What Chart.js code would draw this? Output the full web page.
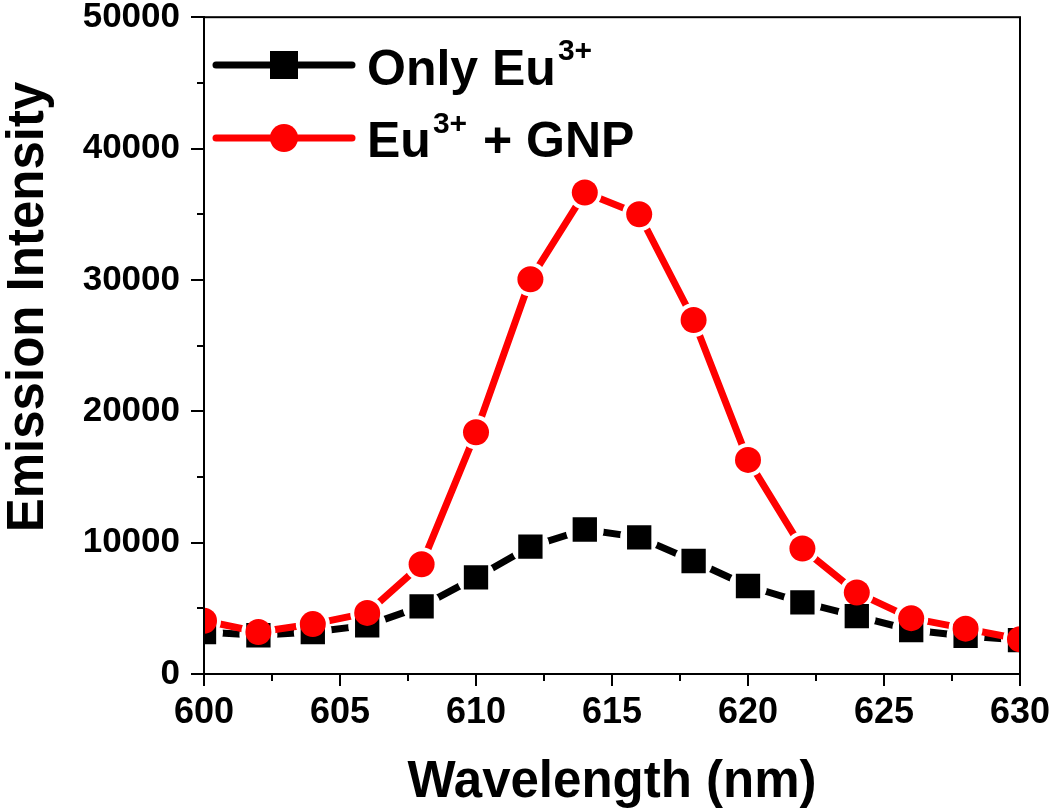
<!DOCTYPE html>
<html>
<head>
<meta charset="utf-8">
<script src="https://cdn.jsdelivr.net/npm/chart.js@4/dist/chart.umd.min.js"></script>
<style>
html, body { margin: 0; padding: 0; background: #fff; }
#wrap { width: 1050px; height: 812px; }
</style>
</head>
<body>
<div id="wrap"><canvas id="myChart" width="1050" height="812"></canvas></div>
<script>
// wavelength (nm) and emission intensity
var wavelengths = [600, 602, 604, 606, 608, 610, 612, 614, 616, 618, 620, 622, 624, 626, 628, 630];
var onlyEu = [3200, 2950, 3200, 3700, 5150, 7350, 9700, 11000, 10400, 8600, 6700, 5450, 4400, 3350, 2900, 2580];
var euGnp = [4050, 3200, 3800, 4650, 8350, 18400, 30050, 36650, 35000, 26950, 16300, 9550, 6200, 4250, 3450, 2650];

var xTickValues = [600, 605, 610, 615, 620, 625, 630];
var yTickValues = [0, 10000, 20000, 30000, 40000, 50000];
var xMinorTicks = [602.5, 607.5, 612.5, 617.5, 622.5, 627.5];
var yMinorTicks = [5000, 15000, 25000, 35000, 45000];

var FONT = '"Liberation Sans", Arial, sans-serif';
Chart.defaults.font.family = FONT;
Chart.defaults.color = '#000';

function pts(vals) {
  return wavelengths.map(function(w, i) { return {x: w, y: vals[i]}; });
}

// cut the line around its own symbols, like the origin plot does
var gapPlugin = {
  id: 'gaps',
  beforeDatasetDraw: function(chart, args) {
    var ds = chart.data.datasets[args.index];
    if (!ds.gapRadius) return;
    var ctx = chart.ctx;
    ctx.save();
    ctx.beginPath();
    ctx.rect(0, 0, chart.width, chart.height);
    args.meta.data.forEach(function(p) {
      ctx.moveTo(p.x + ds.gapRadius, p.y);
      ctx.arc(p.x, p.y, ds.gapRadius, 0, Math.PI * 2, true);
    });
    ctx.clip('evenodd');
  },
  afterDatasetDraw: function(chart, args) {
    if (chart.data.datasets[args.index].gapRadius) chart.ctx.restore();
  }
};

var extrasPlugin = {
  id: 'extras',
  afterDraw: function(chart) {
    var ctx = chart.ctx;
    var a = chart.chartArea;
    var xs = chart.scales.x, ys = chart.scales.y;
    ctx.save();
    ctx.strokeStyle = '#000';
    ctx.lineWidth = 2;
    ctx.strokeRect(a.left, a.top, a.right - a.left, a.bottom - a.top);

    // minor ticks
    ctx.beginPath();
    xMinorTicks.forEach(function(v) {
      var px = Math.round(xs.getPixelForValue(v));
      ctx.moveTo(px, a.bottom);
      ctx.lineTo(px, a.bottom + 7);
    });
    yMinorTicks.forEach(function(v) {
      var py = Math.round(ys.getPixelForValue(v));
      ctx.moveTo(a.left, py);
      ctx.lineTo(a.left - 7, py);
    });
    ctx.stroke();

    // legend
    ctx.lineCap = 'round';
    ctx.lineWidth = 7;
    ctx.strokeStyle = '#000';
    ctx.beginPath(); ctx.moveTo(216, 65); ctx.lineTo(352, 65); ctx.stroke();
    ctx.fillStyle = '#000';
    ctx.fillRect(284 - 14, 65 - 14, 28, 28);
    ctx.strokeStyle = '#ff0000';
    ctx.beginPath(); ctx.moveTo(216, 138); ctx.lineTo(352, 138); ctx.stroke();
    ctx.fillStyle = '#ff0000';
    ctx.beginPath(); ctx.arc(284, 138, 14, 0, Math.PI * 2); ctx.fill();

    ctx.fillStyle = '#000';
    ctx.textAlign = 'left';
    ctx.textBaseline = 'alphabetic';
    var big = 'bold 50px ' + FONT, sup = 'bold 30px ' + FONT;
    ctx.font = big;
    ctx.fillText('Only Eu', 367, 85);
    var w = ctx.measureText('Only Eu').width;
    ctx.font = sup;
    ctx.fillText('3+', 367 + w + 2, 60);

    ctx.font = big;
    ctx.fillText('Eu', 367, 157);
    w = ctx.measureText('Eu').width;
    ctx.font = sup;
    ctx.fillText('3+', 367 + w + 2, 133);
    var w2 = ctx.measureText('3+').width;
    ctx.font = big;
    ctx.fillText(' + GNP', 367 + w + 2 + w2 + 2, 157);

    // y title
    ctx.translate(43, 307);
    ctx.rotate(-Math.PI / 2);
    ctx.textAlign = 'center';
    ctx.font = 'bold 51px ' + FONT;
    ctx.fillText('Emission Intensity', 0, 0);
    ctx.restore();
  }
};

var ctx = document.getElementById('myChart').getContext('2d');
var myChart = new Chart(ctx, {
  type: 'line',
  data: {
    datasets: [
      {
        label: 'Only Eu3+',
        data: pts(onlyEu),
        borderColor: '#000',
        borderWidth: 7,
        borderCapStyle: 'round',
        borderJoinStyle: 'round',
        pointRadius: 0,
        gapRadius: 19,
        order: 4,
        clip: 0
      },
      {
        label: 'Only Eu3+ symbols',
        data: pts(onlyEu),
        showLine: false,
        pointStyle: 'rect',
        pointRadius: 17.2,
        pointBackgroundColor: '#000',
        pointBorderWidth: 0,
        order: 3,
        clip: 0
      },
      {
        label: 'Eu3+ + GNP',
        data: pts(euGnp),
        borderColor: '#ff0000',
        borderWidth: 7,
        borderCapStyle: 'round',
        borderJoinStyle: 'round',
        pointRadius: 0,
        gapRadius: 17,
        order: 2,
        clip: 0
      },
      {
        label: 'Eu3+ + GNP symbols',
        data: pts(euGnp),
        showLine: false,
        pointStyle: 'circle',
        pointRadius: 13,
        pointBackgroundColor: '#ff0000',
        pointBorderWidth: 0,
        order: 1,
        clip: 0
      }
    ]
  },
  options: {
    responsive: false,
    animation: false,
    events: [],
    devicePixelRatio: 1,
    layout: { padding: { top: 16, right: 30, left: 0, bottom: 0 } },
    plugins: {
      legend: { display: false },
      tooltip: { enabled: false }
    },
    scales: {
      x: {
        type: 'linear',
        min: 600,
        max: 630,
        afterFit: function(s) { s.height = 138; s.paddingLeft = 0; s.paddingRight = 0; },
        afterBuildTicks: function(s) { s.ticks = xTickValues.map(function(v) { return {value: v}; }); },
        ticks: {
          padding: 5,
          maxRotation: 0,
          autoSkip: false,
          font: { size: 36, weight: 'bold' }
        },
        grid: { drawOnChartArea: false, drawTicks: true, tickLength: 12, tickWidth: 2, tickColor: '#000', color: '#000', lineWidth: 2 },
        border: { display: true, color: '#000', width: 2 },
        title: {
          display: true,
          text: 'Wavelength (nm)',
          color: '#000',
          font: { size: 51, weight: 'bold', lineHeight: 1 },
          padding: { top: 0, bottom: 4 }
        }
      },
      y: {
        min: 0,
        max: 50000,
        afterFit: function(s) { s.width = 204; s.paddingTop = 0; s.paddingBottom = 0; },
        afterBuildTicks: function(s) { s.ticks = yTickValues.map(function(v) { return {value: v}; }); },
        ticks: {
          padding: 11,
          font: { size: 35, weight: 'bold' },
          callback: function(v) { return String(v); }
        },
        grid: { drawOnChartArea: false, drawTicks: true, tickLength: 13, tickWidth: 2, tickColor: '#000', color: '#000', lineWidth: 2 },
        border: { display: true, color: '#000', width: 2 }
      }
    }
  },
  plugins: [gapPlugin, extrasPlugin]
});
</script>
</body>
</html>
